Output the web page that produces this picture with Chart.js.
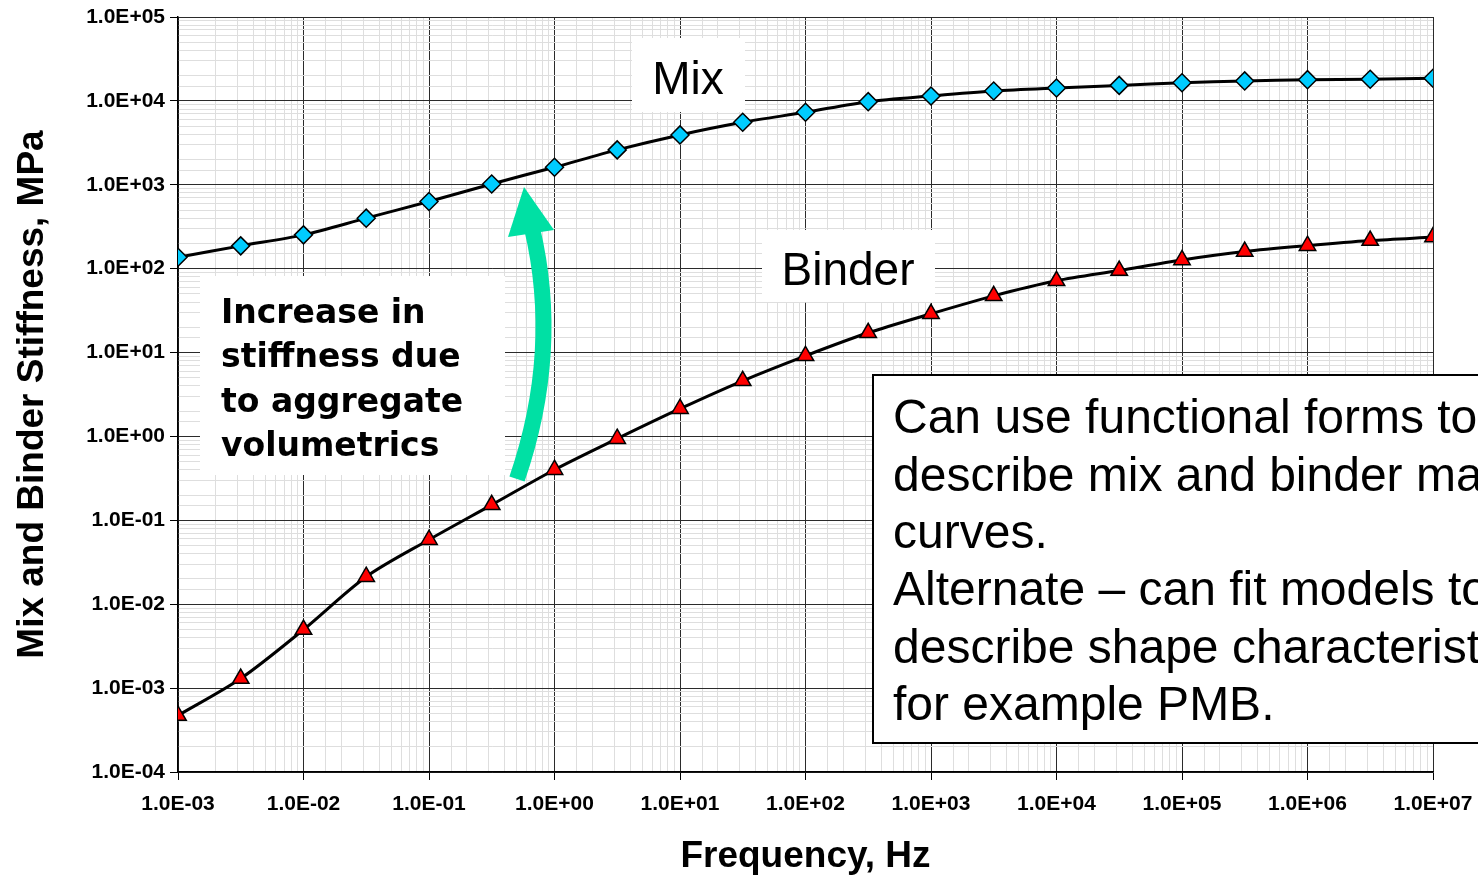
<!DOCTYPE html>
<html lang="en">
<head>
    <meta charset="UTF-8">
    <title>Mix and Binder Stiffness</title>
    <script src="https://cdn.jsdelivr.net/npm/chart.js"></script>
    <style>
        html, body { margin: 0; padding: 0; background: #fff; overflow: hidden; }
        #wrap { width: 1478px; height: 877px; }
    </style>
</head>
<body>
    <div id="wrap"><canvas id="stiffnessChart" width="1478" height="877"></canvas></div>

    <script>
        // frequencies (Hz), half-decade steps
        const frequency = [0.001, 0.00316, 0.01, 0.0316, 0.1, 0.316, 1, 3.16, 10, 31.6, 100, 316,
            1000, 3160, 10000, 31600, 100000, 316000, 1000000, 3160000, 10000000];

        // stiffness, MPa
        const mixStiffness = [137, 187, 253, 400, 631, 1023, 1619, 2606, 3930, 5560, 7310, 9790,
            11450, 13120, 14260, 15300, 16480, 17300, 17900, 18100, 18620];
        const binderStiffness = [0.000471, 0.0013, 0.00498, 0.0213, 0.0588, 0.153, 0.401, 0.94, 2.14, 4.61, 9.15, 17.2,
            29.0, 47.4, 71.6, 95, 127, 160, 188, 216, 238];

        const seriesLabels = ['Mix', 'Binder'];
        const noteLines = ['Increase in', 'stiffness due', 'to aggregate', 'volumetrics'];
        const boxLines = ['Can use functional forms to', 'describe mix and binder master', 'curves.',
            'Alternate \u2013 can fit models to', 'describe shape characteristics', 'for example PMB.'];

        function toPoints(xs, ys) {
            return xs.map((x, i) => ({ x: x, y: ys[i] }));
        }

        function isDecade(v) {
            const l = Math.log10(v);
            return Math.abs(l - Math.round(l)) < 1e-6;
        }

        function sciLabel(v) {
            if (!isDecade(v)) return '';
            const e = Math.round(Math.log10(v));
            return '1.0E' + (e < 0 ? '-' : '+') + String(Math.abs(e)).padStart(2, '0');
        }

        const gridColor = ctx => isDecade(ctx.tick.value) ? '#2b2b2b' : '#dedede';
        const tickColor = ctx => isDecade(ctx.tick.value) ? '#000' : 'rgba(0,0,0,0)';

        // labels, note and arrow on top of the plot
        const annotations = {
            id: 'annotations',
            beforeDatasetsDraw(chart) {
                const ctx = chart.ctx;
                ctx.save();

                // white label boxes
                ctx.fillStyle = '#fff';
                ctx.fillRect(632, 38, 113, 74);
                ctx.fillRect(762, 230, 173, 72);
                ctx.fillRect(200, 276, 305, 199);

                ctx.fillStyle = '#000';
                ctx.textBaseline = 'middle';
                ctx.textAlign = 'center';
                ctx.font = '46px "Liberation Sans", Arial, sans-serif';
                ctx.fillText(seriesLabels[0], 688, 81);
                ctx.fillText(seriesLabels[1], 848, 272);

                ctx.textAlign = 'left';
                ctx.font = 'bold 33px "DejaVu Sans", sans-serif';
                noteLines.forEach((t, i) => ctx.fillText(t, 221, 314 + i * 44.5));

                // bordered text box, runs off the right edge
                ctx.fillStyle = '#fff';
                ctx.fillRect(873, 375, 700, 368);
                ctx.strokeStyle = '#000';
                ctx.lineWidth = 2;
                ctx.strokeRect(873, 375, 700, 368);
                ctx.fillStyle = '#000';
                ctx.font = '48px "Liberation Sans", Arial, sans-serif';
                boxLines.forEach((t, i) => ctx.fillText(t, 893, 420 + i * 57.4));

                ctx.restore();
            },
            afterDatasetsDraw(chart) {
                const ctx = chart.ctx;
                ctx.save();
                ctx.strokeStyle = '#00E0A4';
                ctx.fillStyle = '#00E0A4';
                ctx.lineWidth = 16;
                ctx.beginPath();
                ctx.moveTo(517, 479);
                ctx.quadraticCurveTo(561, 351, 532, 228);
                ctx.stroke();
                ctx.beginPath();
                ctx.moveTo(508, 237);
                ctx.lineTo(524, 187);
                ctx.lineTo(554, 230);
                ctx.closePath();
                ctx.fill();
                ctx.restore();
            }
        };

        const tickFont = { family: '"Liberation Sans", Arial, sans-serif', size: 21, weight: 'bold' };
        const titleFont = { family: '"Liberation Sans", Arial, sans-serif', size: 37, weight: 'bold', lineHeight: 1 };

        new Chart(document.getElementById('stiffnessChart').getContext('2d'), {
            type: 'line',
            data: {
                datasets: [{
                    label: seriesLabels[0],
                    data: toPoints(frequency, mixStiffness),
                    borderColor: '#000',
                    borderWidth: 3,
                    tension: 0.3,
                    pointStyle: 'rectRot',
                    pointRadius: 9,
                    pointBackgroundColor: '#00CCFF',
                    pointBorderColor: '#000',
                    pointBorderWidth: 1.5
                }, {
                    label: seriesLabels[1],
                    data: toPoints(frequency, binderStiffness),
                    borderColor: '#000',
                    borderWidth: 3,
                    tension: 0.3,
                    pointStyle: 'triangle',
                    pointRadius: 9.5,
                    pointBackgroundColor: '#FF0000',
                    pointBorderColor: '#000',
                    pointBorderWidth: 1.5
                }]
            },
            options: {
                responsive: false,
                animation: false,
                layout: { padding: { top: 17, right: 45, left: 0, bottom: 0 } },
                plugins: { legend: { display: false }, tooltip: { enabled: false } },
                scales: {
                    x: {
                        type: 'logarithmic',
                        min: 0.001,
                        max: 10000000,
                        afterFit: s => { s.height = 105; s.paddingLeft = 0; s.paddingRight = 0; },
                        border: { color: '#000', width: 1.5 },
                        grid: { color: gridColor, tickColor: tickColor, tickLength: 8, lineWidth: 1 },
                        ticks: { autoSkip: false, maxRotation: 0, padding: 12, color: '#000', font: tickFont, callback: v => sciLabel(v) },
                        title: { display: true, text: 'Frequency, Hz', color: '#000', font: titleFont, padding: { top: 0, bottom: 2 } }
                    },
                    y: {
                        type: 'logarithmic',
                        min: 0.0001,
                        max: 100000,
                        afterFit: s => { s.width = 178; s.paddingTop = 0; s.paddingBottom = 0; },
                        border: { color: '#000', width: 1.5 },
                        grid: { color: gridColor, tickColor: tickColor, tickLength: 8, lineWidth: 1 },
                        ticks: { autoSkip: false, padding: 5, color: '#000', font: tickFont, callback: v => sciLabel(v) },
                        title: { display: true, text: 'Mix and Binder Stiffness, MPa', color: '#000', font: titleFont, padding: { top: 14, bottom: 0 } }
                    }
                }
            },
            plugins: [annotations]
        });
    </script>
</body>
</html>
